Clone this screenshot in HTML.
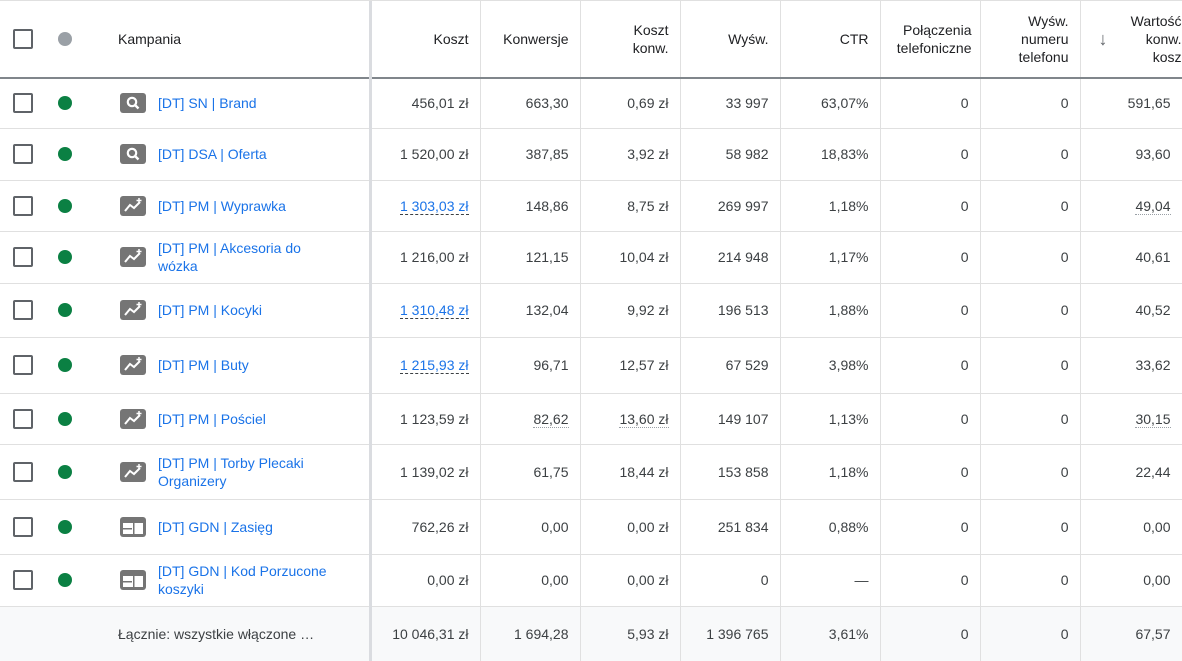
<!DOCTYPE html>
<html><head><meta charset="utf-8"><style>
*{box-sizing:border-box;margin:0;padding:0}
body{width:1182px;height:661px;overflow:hidden;background:#fff;font-family:"Liberation Sans",Arial,sans-serif;font-size:14px;color:#3c4043}
table{border-collapse:collapse;table-layout:fixed;width:1182px;position:absolute;top:0;left:0}
td{border-bottom:1px solid #e0e0e0;border-right:1px solid #e0e0e0;text-align:right;padding-right:11px;vertical-align:middle;white-space:nowrap;overflow:hidden}
td.c0{border-right:3px solid #dadce0;text-align:left;padding:0;position:relative}
tr.h td{color:#202124;border-bottom:2px solid #80868b;line-height:18px;font-size:14px}
tr.f td{background:#f8f9fa;border-bottom:none}
.cb{position:absolute;left:13px;width:20px;height:20px;border:2px solid #5f6368;border-radius:2px;top:50%;margin-top:-10px}
.dot{position:absolute;left:58px;width:14px;height:14px;border-radius:50%;background:#0b8043;top:50%;margin-top:-7px}
.ic{position:absolute;left:120px;top:50%;margin-top:-10px;width:26px;height:20px}
.nm{position:absolute;left:158px;top:50%;transform:translateY(-50%);color:#1a73e8;line-height:18px;white-space:normal;width:176px}
.dash{border-bottom:1px dashed #3c4043;color:#1a73e8}
.dot2{border-bottom:1px dotted #9aa0a6}
</style></head><body>
<svg width="0" height="0" style="position:absolute"><defs>
<g id="s"><rect width="26" height="20" rx="3" fill="#757575"/><circle cx="12" cy="9" r="4.2" fill="none" stroke="#fff" stroke-width="2.2"/><line x1="15" y1="12" x2="18.5" y2="15.5" stroke="#fff" stroke-width="2.4"/></g>
<g id="p"><rect width="26" height="20" rx="3" fill="#757575"/><polyline points="5,15 10,9 14,12 20,6" fill="none" stroke="#fff" stroke-width="2"/><path d="M19 2v5M16.5 4.5h5" stroke="#fff" stroke-width="1.5"/></g>
<g id="d"><rect width="26" height="20" rx="3" fill="#757575"/><rect x="3" y="6" width="20" height="11" fill="#fff"/><rect x="3" y="11" width="9" height="1.5" fill="#757575"/><rect x="13" y="6" width="1.5" height="11" fill="#757575"/></g>
</defs></svg>
<table>
<colgroup><col style="width:370px"><col style="width:110px"><col style="width:100px"><col style="width:100px"><col style="width:100px"><col style="width:100px"><col style="width:100px"><col style="width:100px"><col style="width:102px"></colgroup>
<tr class="h" style="height:78px"><td class="c0"><div class="cb"></div><div class="dot" style="background:#9aa0a6"></div><div style="position:absolute;left:118px;top:30px">Kampania</div></td><td>Koszt</td><td>Konwersje</td><td>Koszt<br>konw.</td><td>Wyśw.</td><td>CTR</td><td style="padding-right:8px">Połączenia<br>telefoniczne</td><td>Wyśw.<br>numeru<br>telefonu</td><td style="padding-right:0"><span style="float:left;margin:18px 0 0 18px;color:#5f6368;font-size:18px">↓</span>Wartość<br>konw.<br>kosz</td></tr>
<tr style="height:50px"><td class="c0"><div class="cb"></div><div class="dot"></div><svg class="ic"><use href="#s"/></svg><div class="nm">[DT] SN | Brand</div></td><td>456,01 zł</td><td>663,30</td><td>0,69 zł</td><td>33 997</td><td>63,07%</td><td>0</td><td>0</td><td>591,65</td></tr>
<tr style="height:52px"><td class="c0"><div class="cb"></div><div class="dot"></div><svg class="ic"><use href="#s"/></svg><div class="nm">[DT] DSA | Oferta</div></td><td>1 520,00 zł</td><td>387,85</td><td>3,92 zł</td><td>58 982</td><td>18,83%</td><td>0</td><td>0</td><td>93,60</td></tr>
<tr style="height:51px"><td class="c0"><div class="cb"></div><div class="dot"></div><svg class="ic"><use href="#p"/></svg><div class="nm">[DT] PM | Wyprawka</div></td><td><span class="dash">1 303,03 zł</span></td><td>148,86</td><td>8,75 zł</td><td>269 997</td><td>1,18%</td><td>0</td><td>0</td><td><span class="dot2">49,04</span></td></tr>
<tr style="height:52px"><td class="c0"><div class="cb"></div><div class="dot"></div><svg class="ic"><use href="#p"/></svg><div class="nm">[DT] PM | Akcesoria do wózka</div></td><td>1 216,00 zł</td><td>121,15</td><td>10,04 zł</td><td>214 948</td><td>1,17%</td><td>0</td><td>0</td><td>40,61</td></tr>
<tr style="height:54px"><td class="c0"><div class="cb"></div><div class="dot"></div><svg class="ic"><use href="#p"/></svg><div class="nm">[DT] PM | Kocyki</div></td><td><span class="dash">1 310,48 zł</span></td><td>132,04</td><td>9,92 zł</td><td>196 513</td><td>1,88%</td><td>0</td><td>0</td><td>40,52</td></tr>
<tr style="height:56px"><td class="c0"><div class="cb"></div><div class="dot"></div><svg class="ic"><use href="#p"/></svg><div class="nm">[DT] PM | Buty</div></td><td><span class="dash">1 215,93 zł</span></td><td>96,71</td><td>12,57 zł</td><td>67 529</td><td>3,98%</td><td>0</td><td>0</td><td>33,62</td></tr>
<tr style="height:51px"><td class="c0"><div class="cb"></div><div class="dot"></div><svg class="ic"><use href="#p"/></svg><div class="nm">[DT] PM | Pościel</div></td><td>1 123,59 zł</td><td><span class="dot2">82,62</span></td><td><span class="dot2">13,60 zł</span></td><td>149 107</td><td>1,13%</td><td>0</td><td>0</td><td><span class="dot2">30,15</span></td></tr>
<tr style="height:55px"><td class="c0"><div class="cb"></div><div class="dot"></div><svg class="ic"><use href="#p"/></svg><div class="nm">[DT] PM | Torby Plecaki Organizery</div></td><td>1 139,02 zł</td><td>61,75</td><td>18,44 zł</td><td>153 858</td><td>1,18%</td><td>0</td><td>0</td><td>22,44</td></tr>
<tr style="height:55px"><td class="c0"><div class="cb"></div><div class="dot"></div><svg class="ic"><use href="#d"/></svg><div class="nm">[DT] GDN | Zasięg</div></td><td>762,26 zł</td><td>0,00</td><td>0,00 zł</td><td>251 834</td><td>0,88%</td><td>0</td><td>0</td><td>0,00</td></tr>
<tr style="height:52px"><td class="c0"><div class="cb"></div><div class="dot"></div><svg class="ic"><use href="#d"/></svg><div class="nm">[DT] GDN | Kod Porzucone koszyki</div></td><td>0,00 zł</td><td>0,00</td><td>0,00 zł</td><td>0</td><td>—</td><td>0</td><td>0</td><td>0,00</td></tr>
<tr class="f" style="height:55px"><td class="c0"><div style="position:absolute;left:118px;top:19px">Łącznie: wszystkie włączone …</div></td><td>10 046,31 zł</td><td>1 694,28</td><td>5,93 zł</td><td>1 396 765</td><td>3,61%</td><td>0</td><td>0</td><td>67,57</td></tr>
</table>
<div style="position:absolute;top:0;left:0;width:1182px;height:1px;background:#e0e0e0"></div>
</body></html>
